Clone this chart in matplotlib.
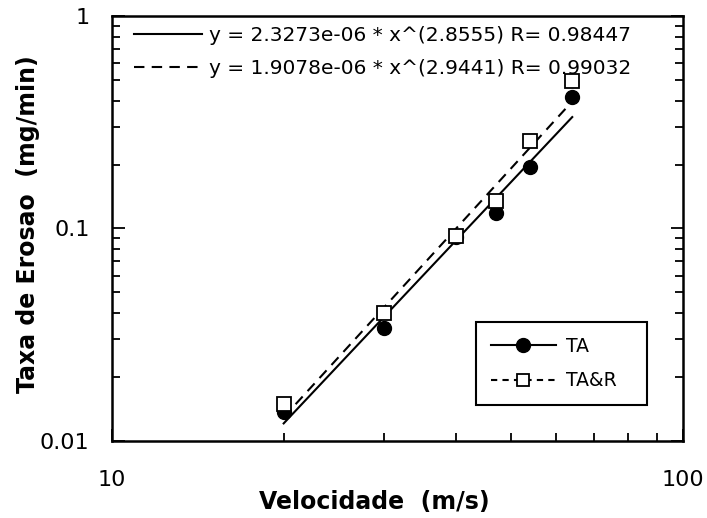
import numpy as np
import matplotlib
matplotlib.use('Agg')
import matplotlib.pyplot as plt
from matplotlib.lines import Line2D
from matplotlib.ticker import LogLocator, NullFormatter, FixedLocator, FixedFormatter

plt.rcParams['font.family'] = ['DejaVu Sans']

# velocity (m/s) and erosion rate (mg/min)
vel = [20, 30, 40, 47, 54, 64]
ta = [0.0136, 0.0338, 0.091, 0.118, 0.194, 0.415]
tar = [0.0149, 0.0398, 0.0925, 0.134, 0.257, 0.492]

# power-law fits shown in the chart (a, b, R)
fit_ta = (2.3273e-06, 2.8555, 0.98447)
fit_tar = (1.9078e-06, 2.9441, 0.99032)

xticks = [10, 100]
xticklabels = ['10', '100']
yticks = [0.01, 0.1, 1]
yticklabels = ['0.01', '0.1', '1']

fig = plt.figure(figsize=(7.07, 5.18), dpi=100)
ax = fig.add_axes([0.158, 0.149, 0.808, 0.82])
ax.set_xscale('log')
ax.set_yscale('log')
ax.set_xlim(10, 100)
ax.set_ylim(0.01, 1)

xs = np.geomspace(min(vel), max(vel), 50)
a, b, r = fit_ta
l1, = ax.plot(xs, a * xs ** b, color='black', lw=1.5, ls='-')
a2, b2, r2 = fit_tar
l2, = ax.plot(xs, a2 * xs ** b2, color='black', lw=1.5, ls=(0, (5, 3.5)))

ax.plot(vel, ta, ls='none', marker='o', ms=10, color='black')
ax.plot(vel, tar, ls='none', marker='s', ms=9.5, mfc='white', mec='black', mew=1.3)

leg1 = ax.legend([l1, l2],
                 ['y = %.4e * x^(%.4f) R= %.5f' % (a, b, r),
                  'y = %.4e * x^(%.4f) R= %.5f' % (a2, b2, r2)],
                 loc='upper left', bbox_to_anchor=(0.0385, 0.977), frameon=False,
                 fontsize=14.5, handlelength=3.4, handletextpad=0.35, labelspacing=0.72,
                 borderaxespad=0, borderpad=0)
ax.add_artist(leg1)

h1 = Line2D([], [], color='black', lw=1.5, marker='o', ms=10)
h2 = Line2D([], [], color='black', lw=1.5, ls=(0, (3, 2.5)), marker='s', ms=8.5, mfc='white', mew=1.3)
leg2 = ax.legend([h1, h2], ['TA', 'TA&R'], loc='lower left', bbox_to_anchor=(0.637, 0.084, 0.3, 0.2),
                 mode='expand', fontsize=13.5, handlelength=3.5, handletextpad=0.5,
                 labelspacing=0.82, borderpad=0.8, borderaxespad=0,
                 fancybox=False, edgecolor='black', framealpha=1)
leg2.get_frame().set_linewidth(1.5)

ax.xaxis.set_major_locator(FixedLocator(xticks))
ax.xaxis.set_major_formatter(FixedFormatter(xticklabels))
ax.xaxis.set_minor_locator(LogLocator(base=10, subs=np.arange(2, 10)))
ax.xaxis.set_minor_formatter(NullFormatter())
ax.yaxis.set_major_locator(FixedLocator(yticks))
ax.yaxis.set_major_formatter(FixedFormatter(yticklabels))
ax.yaxis.set_minor_locator(LogLocator(base=10, subs=np.arange(2, 10)))
ax.yaxis.set_minor_formatter(NullFormatter())

ax.tick_params(which='both', direction='in', right=True, top=False, width=1.3)
ax.tick_params(which='major', length=9)
ax.tick_params(which='minor', length=6)
ax.tick_params(axis='x', which='major', pad=21, labelsize=16)
ax.tick_params(axis='y', which='major', pad=16, labelsize=16)
for s in ax.spines.values():
    s.set_linewidth(1.8)

ax.set_xlabel('Velocidade  (m/s)', fontsize=17, fontweight='bold')
ax.xaxis.set_label_coords(0.46, -0.115)
ax.set_ylabel('Taxa de Erosao  (mg/min)', fontsize=17, fontweight='bold')
ax.yaxis.set_label_coords(-0.126, 0.51)

fig.savefig('out.png', dpi=100)
